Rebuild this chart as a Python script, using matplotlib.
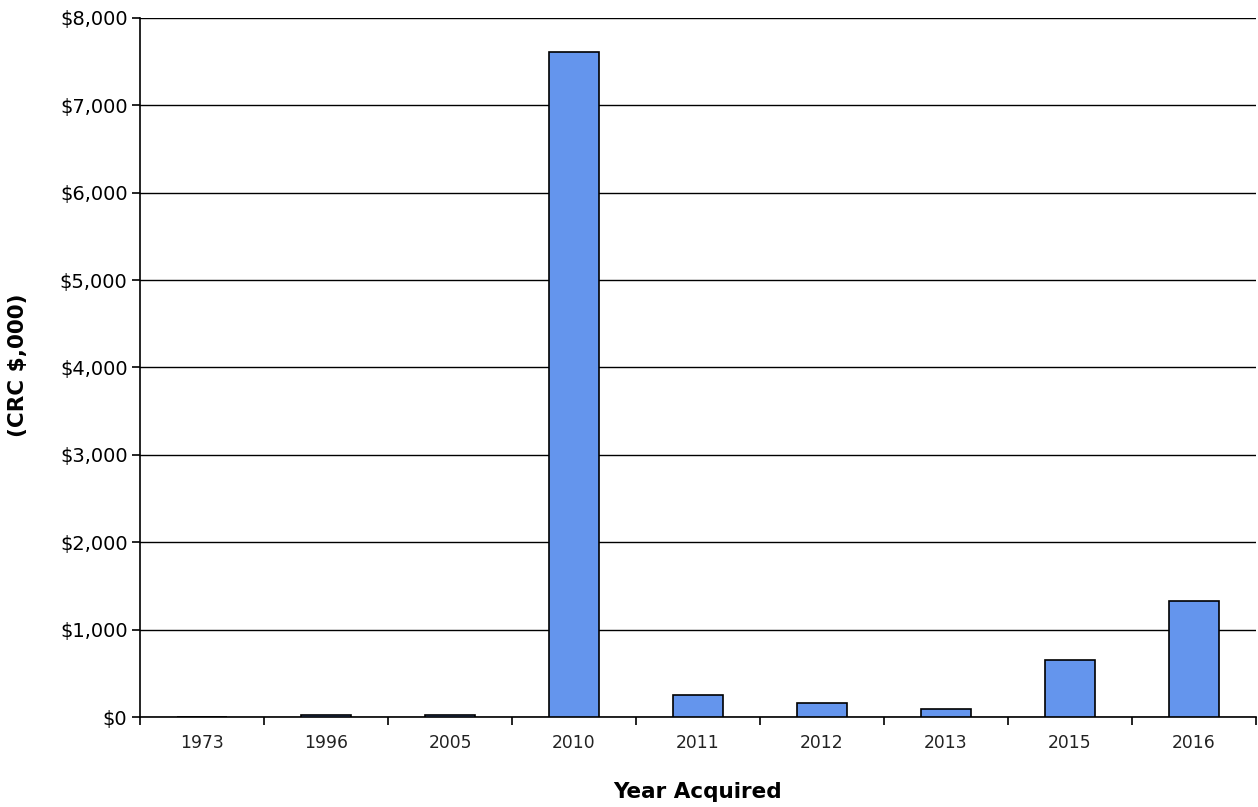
import matplotlib
matplotlib.use("Agg")
from matplotlib import pyplot as plt
from matplotlib.ticker import FuncFormatter
import numpy as np

# values (CRC $,000)
years = ["1973", "1996", "2005", "2010", "2011", "2012", "2013", "2015", "2016"]
values = [0, 20, 20, 7610, 250, 160, 95, 655, 1330]
y_ticks = [0, 1000, 2000, 3000, 4000, 5000, 6000, 7000, 8000]

fig = plt.figure(figsize=(12.58, 8.07), dpi=100)
ax = fig.add_axes([140 / 1258, 1 - 717 / 807, 1116 / 1258, 699 / 807])

x = np.arange(len(years))
ax.bar(x, values, width=0.41, color="#6495ED", edgecolor="black", linewidth=1.2, zorder=3)

ax.set_xlim(-0.5, len(years) - 0.5)
ax.set_ylim(0, 8000)
ax.set_yticks(y_ticks)
ax.yaxis.set_major_formatter(FuncFormatter(lambda v, p: "${:,.0f}".format(v)))
ax.grid(axis="y", color="black", linewidth=1.0, zorder=0)

# category labels centred, ticks on the boundaries
ax.set_xticks(np.arange(-0.5, len(years), 1.0))
ax.set_xticklabels([])
ax.set_xticks(x, minor=True)
ax.set_xticklabels(years, minor=True, fontsize=12.3, color="#222222")
ax.tick_params(axis="x", which="minor", length=0, pad=12)
ax.tick_params(axis="x", which="major", length=6, width=1.2, direction="out")
ax.tick_params(axis="y", length=6, width=1.2, direction="out", labelsize=14, pad=3)

for s in ["top", "right"]:
    ax.spines[s].set_visible(False)
for s in ["left", "bottom"]:
    ax.spines[s].set_linewidth(1.2)

fig.text(698 / 1258, 1 - 792 / 807, "Year Acquired", ha="center", va="center",
         fontsize=15.5, fontweight="bold")
fig.text(18 / 1258, 1 - 365 / 807, "(CRC $,000)", ha="center", va="center",
         rotation=90, fontsize=15.5, fontweight="bold")

fig.savefig("out.png", dpi=100)
